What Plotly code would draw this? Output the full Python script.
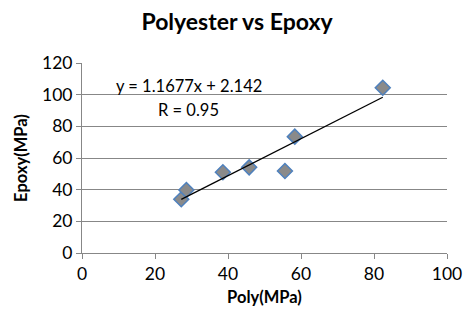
import plotly.graph_objects as go
import numpy as np

poly = [27.2, 28.6, 38.6, 45.8, 55.6, 58.3, 82.4]
epoxy = [33.9, 39.8, 51.0, 54.1, 51.8, 73.5, 104.4]
slope = 1.1677
intercept = 2.142
r_value = 0.95

x_ticks = [0, 20, 40, 60, 80, 100]
y_ticks = [0, 20, 40, 60, 80, 100, 120]

font_family = "Lato, 'Open Sans', sans-serif"

tx = np.array([min(poly), max(poly)])
ty = slope * tx + intercept

fig = go.Figure()
fig.add_trace(go.Scatter(
    x=poly, y=epoxy, mode="markers",
    marker=dict(symbol="diamond", size=11.5, color="#8A8A8A",
                line=dict(color="#4F81BD", width=1.5)),
    showlegend=False,
))
fig.add_trace(go.Scatter(
    x=tx, y=ty, mode="lines",
    line=dict(color="black", width=1.3),
    showlegend=False,
))

W, H = 474, 316
L, R, T, B = 82, 19, 63, 63


def px_to_paper(px, py):
    return (px - L) / (W - L - R), 1 - (py - T) / (H - T - B)


for txt, (px, py) in [(f"y = {slope}x + {intercept}", (191, 86)),
                      (f"R = {r_value}", (191, 109.5))]:
    ax_, ay_ = px_to_paper(px, py)
    fig.add_annotation(x=ax_, y=ay_, xref="paper", yref="paper",
                       text=txt, showarrow=False,
                       xanchor="center", yanchor="middle",
                       font=dict(size=16.5, color="black", family=font_family))

axis_common = dict(
    showline=True, linecolor="#878787", linewidth=1,
    ticks="outside", ticklen=5, tickcolor="#878787",
    tickfont=dict(size=17.5, color="black", family=font_family),
    zeroline=False,
)

fig.update_layout(
    width=W, height=H,
    margin=dict(l=L, r=R, t=T, b=B),
    paper_bgcolor="white", plot_bgcolor="white",
    title=dict(text="<b>Polyester vs Epoxy</b>", x=0.5, xanchor="center",
               xref="container",
               y=1 - 22 / H, yref="container", yanchor="middle",
               font=dict(size=23, color="black", family=font_family)),
    xaxis=dict(range=[0, 100], tickvals=x_ticks, showgrid=False,
               title=dict(text="<b>Poly(MPa)</b>", standoff=8,
                          font=dict(size=16.5, color="black", family=font_family)),
               **axis_common),
    yaxis=dict(range=[0, 120], tickvals=y_ticks, showgrid=True,
               gridcolor="#878787", gridwidth=1,
               title=dict(text="<b>Epoxy(MPa)</b>", standoff=10,
                          font=dict(size=16.5, color="black", family=font_family)),
               **axis_common),
)

fig.write_html("out.html",
               config={"displayModeBar": False},
               post_script="document.body.style.margin='0';document.body.style.overflow='hidden';")
